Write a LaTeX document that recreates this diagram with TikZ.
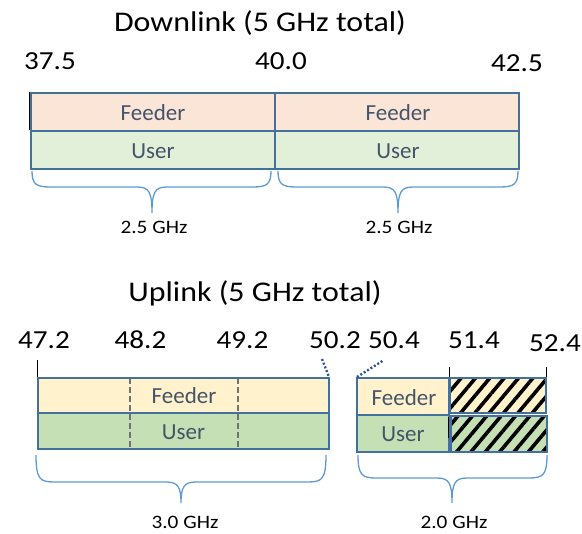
\documentclass[tikz,border=0pt]{standalone}
\usepackage{fontspec}
\setmainfont{Carlito}
\newfontfamily\widefont{Carlito}[FakeStretch=1.12]
\usetikzlibrary{patterns.meta}
\definecolor{bordc}{HTML}{41719C}
\definecolor{dlfeed}{HTML}{FBE5D6}
\definecolor{dluser}{HTML}{E2F0D9}
\definecolor{ulfeed}{HTML}{FFF2CC}
\definecolor{uluser}{HTML}{C5E0B4}
\definecolor{txtc}{HTML}{44546A}
\definecolor{bracecol}{HTML}{5B9BD5}
\definecolor{dashc}{HTML}{767171}
\definecolor{dotc}{HTML}{2F5597}
\tikzset{
  band/.style={draw=bordc, line width=2.6pt},
  boxlabel/.style={anchor=base, font=\fontsize{23}{23}\selectfont, text=txtc, inner sep=0pt},
  freq/.style={anchor=base, font=\widefont\fontsize{26}{26}\selectfont, inner sep=0pt},
  ttl/.style={anchor=base, font=\widefont\fontsize{28.5}{28.5}\selectfont, inner sep=0pt},
  ghz/.style={anchor=base, font=\widefont\fontsize{19}{19}\selectfont, inner sep=0pt, text depth=0pt},
  bracec/.style={draw=bracecol, line width=1.3pt},
  tickline/.style={draw=black, line width=1pt},
  sepline/.style={draw=dashc, line width=2.2pt, dash pattern=on 6pt off 3pt},
  dotline/.style={draw=dotc, line width=2.4pt, dash pattern=on 2pt off 2pt},
  hatch/.style={pattern={Lines[angle=50,distance=11pt,line width=3.6pt]}, pattern color=black}
}
% brace: x1, xm, x2, ytop, yhoriz, ytip
\newcommand\fqbrace[6]{%
  \draw[bracec] (#1,#4) .. controls (#1,{#5-3}) and ({#1+4},#5) .. ({#1+18},#5)
    -- ({#2-15},#5) .. controls ({#2-3},#5) and (#2,{#5+5}) .. (#2,#6)
    .. controls (#2,{#5+5}) and ({#2+3},#5) .. ({#2+15},#5)
    -- ({#3-18},#5) .. controls ({#3-4},#5) and (#3,{#5-3}) .. (#3,#4);}
\begin{document}
\begin{tikzpicture}[x=1pt,y=-1pt]
\useasboundingbox (0,0) rectangle (582,534);
% ---------------- Downlink ----------------
\node[ttl] (dltitle) at (260,31.7) {Downlink (5 GHz total)};
\node[freq] (f375) at (50,69.3) {37.5};
\node[freq] (f400) at (281,69.3) {40.0};
\node[freq] (f425) at (517,71.7) {42.5};
\draw[band, fill=dlfeed] (31,93) rectangle (275,131);
\draw[band, fill=dluser] (31,131) rectangle (275,169);
\draw[band, fill=dlfeed] (275,93) rectangle (519,131);
\draw[band, fill=dluser] (275,131) rectangle (519,169);
\draw[tickline] (29.5,92) -- (29.5,130);
\node[boxlabel] (dlf1) at (153,121) {Feeder};
\node[boxlabel] (dlu1) at (153,158.3) {User};
\node[boxlabel] (dlf2) at (398,121) {Feeder};
\node[boxlabel] (dlu2) at (398,158.3) {User};
\fqbrace{32}{152}{271}{171}{187}{213}
\fqbrace{278}{398}{518}{171}{187}{213}
\node[ghz] (bw1) at (154,234) {2.5 GHz};
\node[ghz] (bw2) at (399,234) {2.5 GHz};
% ---------------- Uplink ----------------
\node[ttl] (ultitle) at (255,301.7) {Uplink (5 GHz total)};
\node[freq] (f472) at (44,348.3) {47.2};
\node[freq] (f482) at (140.5,348.3) {48.2};
\node[freq] (f492) at (242.5,348.3) {49.2};
\node[freq] (f502) at (335,348.3) {50.2};
\node[freq] (f504) at (394,348.3) {50.4};
\node[freq] (f514) at (474,348.3) {51.4};
\node[freq] (f524) at (555,351.7) {52.4};
% left band
\draw[tickline] (37.5,360) -- (37.5,413);
\draw[band, fill=ulfeed] (38,378) rectangle (329,413);
\draw[band, fill=uluser] (38,413) rectangle (329,449);
\draw[sepline] (130,378) -- (130,449);
\draw[sepline] (238,378) -- (238,449);
\draw[band] (38,378) rectangle (329,449);
\draw[dotline] (322,359) -- (329,377);
\node[boxlabel] (ulf1) at (184,403.3) {Feeder};
\node[boxlabel] (ulu1) at (183.5,439.3) {User};
% right band
\draw[band, fill=ulfeed] (357,378) rectangle (449,415);
\draw[band, fill=uluser] (357,415) rectangle (449,452);
\fill[ulfeed] (450,378) rectangle (546,413);
\fill[hatch] (450,378) rectangle (546,413);
\draw[band] (450,378) rectangle (546,413);
\fill[uluser] (451,416) rectangle (547,452);
\fill[hatch] (451,416) rectangle (547,452);
\draw[band] (451,416) rectangle (547,452);
\draw[tickline] (449,367) -- (449,377);
\draw[tickline] (448.5,417) -- (448.5,438);
\draw[tickline] (546,367) -- (546,377);
\draw[dotline] (357,377) -- (384,360);
\node[boxlabel] (ulf2) at (404,406) {Feeder};
\node[boxlabel] (ulu2) at (403,441.7) {User};
\fqbrace{36}{181}{326}{455}{482}{503}
\fqbrace{358}{452}{547}{455}{478}{503}
\node[ghz] (bw3) at (185,529) {3.0 GHz};
\node[ghz] (bw4) at (454,529) {2.0 GHz};
\end{tikzpicture}
\end{document}
